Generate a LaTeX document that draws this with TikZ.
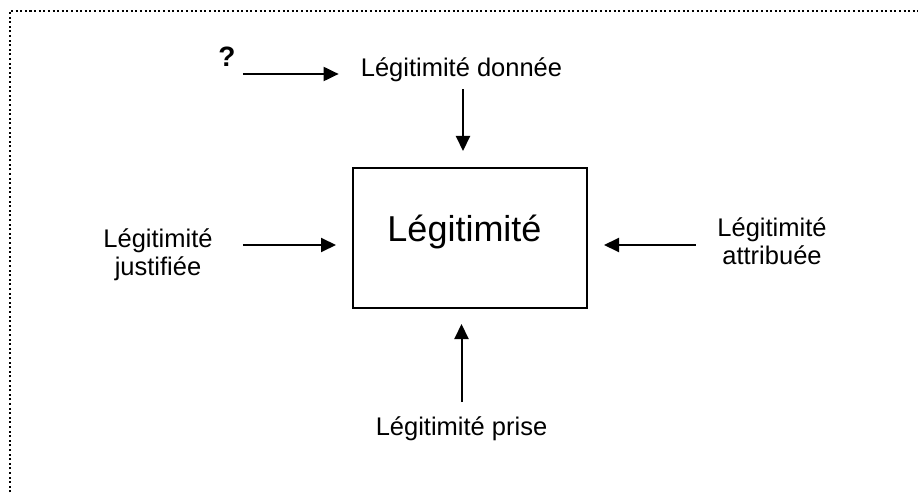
\documentclass[tikz,border=0pt]{standalone}
\usepackage{fontspec}
\setmainfont{Liberation Sans}
\usetikzlibrary{arrows.meta}

\tikzset{
  lbl/.style={inner sep=0pt, font=\fontsize{25.5}{28.5}\selectfont, align=center},
  titletext/.style={inner sep=0pt, font=\fontsize{36}{40}\selectfont},
  qmark/.style={inner sep=0pt, font=\fontsize{28}{30}\selectfont\bfseries},
  mainbox/.style={draw, line width=2pt, minimum width=234pt, minimum height=140pt, inner sep=0pt},
  arr/.style={line width=2pt, -{Triangle[length=15pt,width=14pt]}},
  frame/.style={line width=2pt, dash pattern=on 2pt off 2.6pt}
}

\begin{document}
\begin{tikzpicture}[x=1pt,y=1pt]
  \useasboundingbox (0,0) rectangle (918,-494);
  \clip (0,0) rectangle (918,-494);

  % dotted frame running off the right and bottom edges
  \draw[frame] (9.5,-520) -- (9.5,-11) -- (940,-11);

  % central box and its title
  \node[mainbox] (box) at (470,-238) {};
  \node[titletext, anchor=base] (title) at (464.5,-242) {Légitimité};

  % surrounding labels
  \node[qmark, anchor=base] (q) at (227,-67) {?};
  \node[lbl, anchor=base] (top) at (461.5,-77) {Légitimité donnée};
  \node[lbl] (lj) at (158,-255) {Légitimité\\justifiée};
  \node[lbl] (ra) at (772,-241) {Légitimité\\attribuée};
  \node[lbl, anchor=base] (bot) at (461.5,-435) {Légitimité prise};

  % helper heights for the horizontal arrows
  \coordinate (ytop) at (0,-74);
  \coordinate (ymid) at (0,-245);

  % connectors
  \draw[arr, shorten <=7pt, shorten >=22pt] (q.east |- ytop) -- (top.west |- ytop);
  \draw[arr, shorten <=7pt, shorten >=16pt] ([xshift=1.5pt]top.south) -- ([xshift=1.5pt]top.south |- box.north);
  \draw[arr, shorten <=30pt, shorten >=16pt] (lj.east |- ymid) -- (box.west |- ymid);
  \draw[arr, shorten <=21.5pt, shorten >=16pt] (ra.west |- ymid) -- (box.east |- ymid);
  \draw[arr, shorten <=14pt, shorten >=15pt] (bot.north) -- (bot.north |- box.south);
\end{tikzpicture}
\end{document}
